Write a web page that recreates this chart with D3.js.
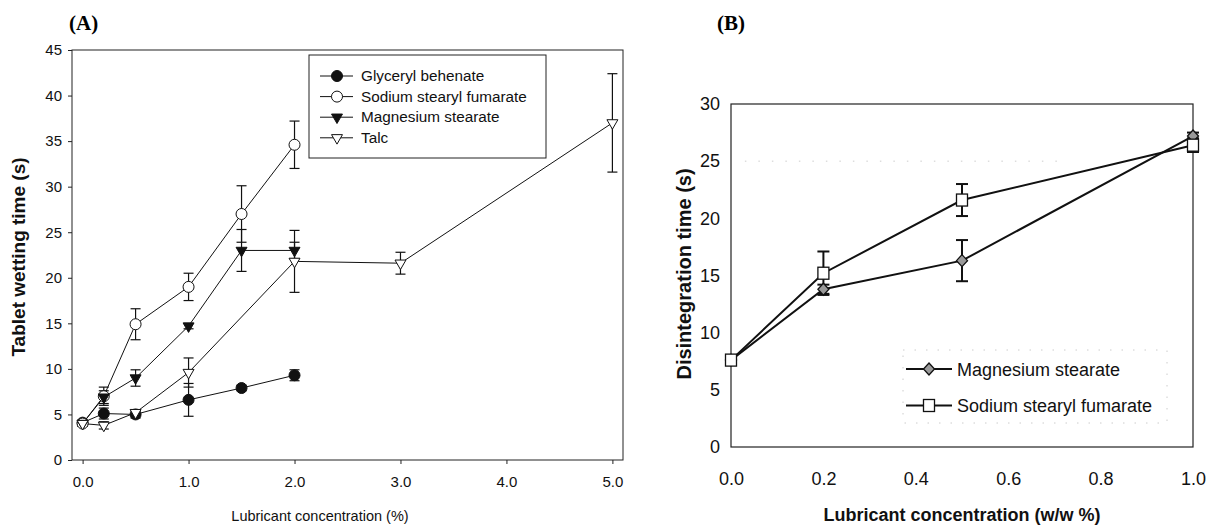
<!DOCTYPE html>
<html><head><meta charset="utf-8">
<script src="https://cdn.jsdelivr.net/npm/d3@7"></script>
<style>
body{margin:0;background:#fff;}
svg{display:block;font-family:Arial,"Liberation Sans",sans-serif;}
</style></head><body>
<svg id="c" width="1212" height="529"></svg>
<script>
// ---- Panel A data ----
const concA = [0, 0.2, 0.5, 1.0, 1.5, 2.0];
const gbMean = [4.1, 5.1, 5.0, 6.6, 7.9, 9.3];
const gbErr = [0.3, 0.6, 0.4, 1.8, 0.3, 0.6];
const ssfMean = [4.0, 7.0, 14.9, 19.0, 27.0, 34.6];
const ssfErr = [0.3, 1.0, 1.7, 1.5, 3.1, 2.6];
const mgMean = [4.0, 6.9, 9.0, 14.7, 23.0, 23.0];
const mgErr = [0.3, 0.7, 0.9, 0.3, 2.3, 0.9];
const concTalc = [0, 0.2, 0.5, 1.0, 2.0, 3.0, 5.0];
const talcMean = [4.0, 3.8, 5.2, 9.6, 21.8, 21.6, 37.0];
const talcErr = [0.3, 0.4, 0.3, 1.6, 3.4, 1.2, 5.4];
const seriesNamesA = ["Glyceryl behenate", "Sodium stearyl fumarate", "Magnesium stearate", "Talc"];
const xTicksA = [0, 1, 2, 3, 4, 5];
const yTicksA = [0, 5, 10, 15, 20, 25, 30, 35, 40, 45];

// ---- Panel B data ----
const concB = [0, 0.2, 0.5, 1.0];
const mgB = [7.6, 13.8, 16.3, 27.2];
const mgBErr = [0.3, 0.4, 1.8, 0.3];
const ssfB = [7.6, 15.2, 21.6, 26.4];
const ssfBErr = [0.3, 1.9, 1.4, 0.6];
const seriesNamesB = ["Magnesium stearate", "Sodium stearyl fumarate"];
const xTicksB = [0, 0.2, 0.4, 0.6, 0.8, 1.0];
const yTicksB = [0, 5, 10, 15, 20, 25, 30];

const svg = d3.select("#c");

// ================= Panel A =================
const xA = d3.scaleLinear().domain([-0.1, 5.1]).range([72, 623]);
const yA = d3.scaleLinear().domain([0, 45]).range([460, 50]);
const gA = svg.append("g");

gA.append("text").attr("x", 69).attr("y", 30).attr("font-family", "'Liberation Serif','Times New Roman',serif")
  .attr("font-weight", "bold").attr("font-size", 21).text("(A)");

// frame
gA.append("rect").attr("x", 72).attr("y", 50).attr("width", 623 - 72).attr("height", 410)
  .attr("fill", "none").attr("stroke", "#222").attr("stroke-width", 1);

const axA_y = gA.append("g").attr("transform", "translate(72,0)")
  .call(d3.axisLeft(yA).tickValues(yTicksA).tickSize(4).tickPadding(6).tickFormat(d3.format("d")));
const axA_x = gA.append("g").attr("transform", "translate(0,460)")
  .call(d3.axisBottom(xA).tickValues(xTicksA).tickSize(4).tickPadding(12).tickFormat(d3.format(".1f")));
[axA_y, axA_x].forEach(a => {
  a.select(".domain").remove();
  a.selectAll("text").attr("font-size", 15).attr("fill", "#111").attr("font-family", "Arial,'Liberation Sans',sans-serif");
  a.selectAll("line").attr("stroke", "#222");
});

gA.append("text").attr("transform", "translate(25,257) rotate(-90)").attr("text-anchor", "middle")
  .attr("font-weight", "bold").attr("font-size", 19).attr("fill", "#111").text("Tablet wetting time (s)");
gA.append("text").attr("x", 320).attr("y", 521).attr("text-anchor", "middle")
  .attr("font-size", 14.5).attr("fill", "#111").text("Lubricant concentration (%)");

const triDown = d3.symbol().type(d3.symbolTriangle).size(52);
function markerA(sel, type) {
  if (type === 0 || type === 1) {
    sel.append("circle").attr("r", 5.5).attr("fill", type === 0 ? "#111" : "#fff").attr("stroke", "#111").attr("stroke-width", 1);
  } else {
    sel.append("path").attr("d", triDown()).attr("transform", "rotate(180)")
      .attr("fill", type === 2 ? "#111" : "#fff").attr("stroke", "#111").attr("stroke-width", 1);
  }
}

const seriesA = [
  {x: concA, m: gbMean, e: gbErr},
  {x: concA, m: ssfMean, e: ssfErr},
  {x: concA, m: mgMean, e: mgErr},
  {x: concTalc, m: talcMean, e: talcErr}
];
const lineA = d3.line().x(d => xA(d[0])).y(d => yA(d[1]));
seriesA.forEach((s) => {
  const pts = s.x.map((v, i) => [v, s.m[i], s.e[i]]);
  gA.append("path").attr("d", lineA(pts)).attr("fill", "none").attr("stroke", "#111").attr("stroke-width", 1);
});
seriesA.forEach((s) => {
  const pts = s.x.map((v, i) => [v, s.m[i], s.e[i]]);
  const eb = gA.append("g").attr("stroke", "#111").attr("stroke-width", 1.2);
  pts.forEach(p => {
    const cx = xA(p[0]), y1 = yA(p[1] + p[2]), y2 = yA(p[1] - p[2]);
    eb.append("line").attr("x1", cx).attr("x2", cx).attr("y1", y1).attr("y2", y2);
    eb.append("line").attr("x1", cx - 5).attr("x2", cx + 5).attr("y1", y1).attr("y2", y1);
    eb.append("line").attr("x1", cx - 5).attr("x2", cx + 5).attr("y1", y2).attr("y2", y2);
  });
});
seriesA.forEach((s, si) => {
  s.x.forEach((v, i) => {
    const g = gA.append("g").attr("transform", `translate(${xA(v)},${yA(s.m[i])})`);
    markerA(g, si);
  });
});

// legend A
const legA = gA.append("g");
legA.append("rect").attr("x", 309).attr("y", 55).attr("width", 237).attr("height", 103)
  .attr("fill", "#fff").attr("stroke", "#222").attr("stroke-width", 1);
seriesNamesA.forEach((n, i) => {
  const yy = 76 + i * 20.6;
  legA.append("line").attr("x1", 320).attr("x2", 353).attr("y1", yy).attr("y2", yy).attr("stroke", "#111");
  const g = legA.append("g").attr("transform", `translate(337,${yy})`);
  markerA(g, i);
  legA.append("text").attr("x", 361).attr("y", yy + 5).attr("font-size", 15.3).attr("fill", "#111").text(n);
});

// ================= Panel B =================
const xB = d3.scaleLinear().domain([0, 1]).range([731, 1193]);
const yB = d3.scaleLinear().domain([0, 30]).range([447, 104]);
const gB = svg.append("g");

gB.append("text").attr("x", 717).attr("y", 30).attr("font-family", "'Liberation Serif','Times New Roman',serif")
  .attr("font-weight", "bold").attr("font-size", 21).text("(B)");

// faint dotted gridline
gB.append("line").attr("x1", xB(0.03)).attr("x2", xB(0.72)).attr("y1", yB(25)).attr("y2", yB(25))
  .attr("stroke", "#ccc").attr("stroke-dasharray", "1.5,12").attr("stroke-width", 1);

gB.append("rect").attr("x", 731).attr("y", 104).attr("width", 1193 - 731).attr("height", 447 - 104)
  .attr("fill", "none").attr("stroke", "#222").attr("stroke-width", 1.2);

const axB_y = gB.append("g").attr("transform", "translate(731,0)")
  .call(d3.axisLeft(yB).tickValues(yTicksB).tickSize(0).tickPadding(11).tickFormat(d3.format("d")));
const axB_x = gB.append("g").attr("transform", "translate(0,447)")
  .call(d3.axisBottom(xB).tickValues(xTicksB).tickSize(0).tickPadding(25).tickFormat(d3.format(".1f")));
[axB_y, axB_x].forEach(a => {
  a.select(".domain").remove();
  a.selectAll("text").attr("font-size", 18).attr("fill", "#111").attr("font-family", "Arial,'Liberation Sans',sans-serif");
});

gB.append("text").attr("transform", "translate(691,274) rotate(-90)").attr("text-anchor", "middle")
  .attr("font-weight", "bold").attr("font-size", 20).attr("fill", "#111").text("Disintegration time (s)");
gB.append("text").attr("x", 962).attr("y", 521).attr("text-anchor", "middle")
  .attr("font-weight", "bold").attr("font-size", 18).attr("fill", "#111").text("Lubricant concentration (w/w %)");

function markerB(sel, type) {
  if (type === 0) {
    sel.append("path").attr("d", "M0,-6L5.5,0L0,6L-5.5,0Z").attr("fill", "#9a9a9a").attr("stroke", "#111").attr("stroke-width", 1.3);
  } else {
    sel.append("rect").attr("x", -5.5).attr("y", -6).attr("width", 11).attr("height", 12)
      .attr("fill", "#fff").attr("stroke", "#111").attr("stroke-width", 1.3);
  }
}
const seriesB = [{m: mgB, e: mgBErr}, {m: ssfB, e: ssfBErr}];
const lineB = d3.line().x(d => xB(d[0])).y(d => yB(d[1]));
seriesB.forEach(s => {
  const pts = concB.map((v, i) => [v, s.m[i]]);
  gB.append("path").attr("d", lineB(pts)).attr("fill", "none").attr("stroke", "#111").attr("stroke-width", 2);
});
seriesB.forEach(s => {
  const eb = gB.append("g").attr("stroke", "#111").attr("stroke-width", 2);
  concB.forEach((v, i) => {
    const cx = xB(v), y1 = yB(s.m[i] + s.e[i]), y2 = yB(s.m[i] - s.e[i]);
    eb.append("line").attr("x1", cx).attr("x2", cx).attr("y1", y1).attr("y2", y2);
    eb.append("line").attr("x1", cx - 6).attr("x2", cx + 6).attr("y1", y1).attr("y2", y1);
    eb.append("line").attr("x1", cx - 6).attr("x2", cx + 6).attr("y1", y2).attr("y2", y2);
  });
});
seriesB.forEach((s, si) => {
  concB.forEach((v, i) => {
    const g = gB.append("g").attr("transform", `translate(${xB(v)},${yB(s.m[i])})`);
    markerB(g, si);
  });
});

// legend B
const legB = gB.append("g");
legB.append("rect").attr("x", 903).attr("y", 350).attr("width", 264).attr("height", 73)
  .attr("fill", "none").attr("stroke", "#ccc").attr("stroke-dasharray", "1.5,10").attr("stroke-width", 1);
seriesNamesB.forEach((n, i) => {
  const yy = 369 + i * 36.5;
  legB.append("line").attr("x1", 906).attr("x2", 952).attr("y1", yy).attr("y2", yy).attr("stroke", "#111").attr("stroke-width", 1.8);
  const g = legB.append("g").attr("transform", `translate(929,${yy})`);
  markerB(g, i);
  legB.append("text").attr("x", 957).attr("y", yy + 6.5).attr("font-size", 18).attr("fill", "#111").text(n);
});
</script>
</body></html>
